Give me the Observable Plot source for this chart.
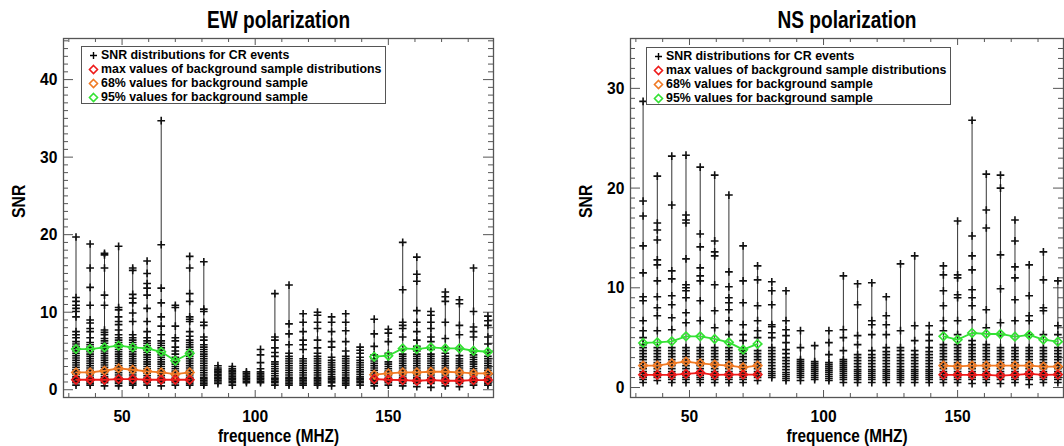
<!DOCTYPE html>
<html><head><meta charset="utf-8">
<script src="https://cdn.jsdelivr.net/npm/d3@7"></script>
<script src="https://cdn.jsdelivr.net/npm/@observablehq/plot@0.6"></script>
<style>
body{margin:0;background:#fff;}
#wrap{display:flex;width:1064px;height:446px;overflow:hidden;}
.panel{position:relative;width:532px;height:446px;flex:none;}
.panel svg.plot{position:absolute;left:0;top:0;}
.legend{position:absolute;border:1px solid #555;background:#fff;box-sizing:border-box;
 font:bold 12.2px "Liberation Sans",Arial,sans-serif;color:#000;padding-top:1px;}
.legend .row{height:14px;line-height:14px;white-space:nowrap;position:relative;padding-left:19px;}
.legend .row svg{position:absolute;left:6px;top:1.5px;}
.legend .row span{display:inline-block;transform:scaleX(1.015);transform-origin:0 50%;}
</style>
</head><body>
<div id="wrap"><div class="panel" id="ew"></div><div class="panel" id="ns"></div></div>
<script>
// ---- data ----
const freqs = [32.7, 38.0, 43.4, 48.7, 54.0, 59.4, 64.7, 70.0, 75.4, 80.7, 86.0, 91.4, 96.7, 102.0, 107.4,
  112.7, 118.0, 123.4, 128.7, 134.0, 139.4, 144.7, 150.0, 155.4, 160.7, 166.0, 171.4, 176.7, 182.0, 187.4];

const ewSNR = [
 [19.7,11.9,11.4,10.9,10.5,10.1,9.4,7.5,7.1,6.7,6.2,5.9,5.6,5.3,5.0,4.7,4.4,4.1,3.8,3.5,3.2,2.9,2.6,2.3,2.0,1.7,1.5,1.3,1.1,0.9,0.6],
 [18.8,15.7,13.2,10.9,9.0,8.6,7.9,7.5,6.7,6.1,5.8,5.5,5.2,4.9,4.6,4.3,4.0,3.7,3.4,3.1,2.8,2.5,2.2,1.9,1.6,1.4,1.2,1.0,0.8,0.6],
 [17.6,17.4,15.7,12.2,10.9,7.7,7.4,7.1,6.6,6.3,6.0,5.6,5.3,5.0,4.7,4.4,4.1,3.8,3.5,3.2,2.9,2.6,2.3,2.0,1.7,1.5,1.3,1.1,0.9,0.5],
 [18.5,10.6,10.3,9.4,8.8,8.4,7.7,7.1,6.7,6.4,6.1,5.8,5.5,5.2,4.9,4.6,4.3,4.0,3.7,3.4,3.1,2.8,2.5,2.2,1.9,1.6,1.4,1.2,1.0,0.8,0.5],
 [15.7,15.4,12.3,11.8,11.2,9.9,8.8,7.1,6.7,6.4,6.1,5.8,5.5,5.2,4.9,4.6,4.3,4.0,3.7,3.4,3.1,2.8,2.5,2.2,1.9,1.6,1.4,1.2,1.0,0.8,0.6],
 [16.6,15.0,13.7,13.1,12.2,10.5,8.8,7.5,6.7,6.3,6.0,5.7,5.4,5.1,4.8,4.5,4.2,3.9,3.6,3.3,3.0,2.7,2.4,2.1,1.8,1.5,1.3,1.1,0.9,0.6],
 [34.7,18.7,13.1,11.2,9.4,8.2,7.1,6.3,6.0,5.7,5.4,5.1,4.8,4.5,4.2,3.9,3.6,3.3,3.0,2.7,2.4,2.1,1.8,1.5,1.3,1.1,0.9,0.5],
 [10.9,10.6,8.2,6.7,6.3,5.5,5.0,4.6,4.2,3.9,3.6,3.3,3.0,2.7,2.4,2.1,1.8,1.5,1.3,1.1,0.9,0.6],
 [17.2,15.7,12.4,11.4,9.4,9.1,8.8,7.5,6.9,6.4,6.1,5.8,5.5,5.2,4.9,4.6,4.3,4.0,3.7,3.4,3.1,2.8,2.5,2.2,1.9,1.6,1.4,1.2,1.0,0.8,0.6],
 [16.5,10.4,10.1,8.7,8.3,6.8,6.4,5.8,5.5,5.2,4.9,4.6,4.3,4.0,3.7,3.4,3.1,2.8,2.5,2.2,1.9,1.6,1.4,1.2,1.0,0.8,0.6],
 [3.1,2.8,2.6,2.4,2.2,2.0,1.8,1.6,1.4,1.2,1.0,0.8],
 [3.0,2.7,2.5,2.3,2.1,1.9,1.7,1.5,1.3,1.1,0.9,0.6],
 [2.3,2.1,1.9,1.7,1.5,1.3,1.1,0.9],
 [5.2,4.5,3.5,2.7,2.3,2.1,1.9,1.7,1.5,1.3,1.1,0.9],
 [12.4,6.8,6.4,5.4,4.8,4.3,3.6,3.3,3.0,2.7,2.4,2.1,1.8,1.5,1.3,1.1,0.9,0.6],
 [13.5,8.5,7.2,5.8,4.7,4.3,4.0,3.7,3.4,3.1,2.8,2.5,2.2,1.9,1.6,1.4,1.2,1.0,0.8,0.6],
 [9.8,8.7,7.5,6.4,5.8,5.2,4.0,3.7,3.4,3.1,2.8,2.5,2.2,1.9,1.6,1.4,1.2,1.0,0.8,0.6],
 [10.0,9.6,8.7,7.9,6.4,5.4,4.7,4.3,4.0,3.7,3.4,3.1,2.8,2.5,2.2,1.9,1.6,1.4,1.2,1.0,0.8,0.6],
 [9.4,8.7,7.5,6.2,5.5,4.2,3.8,3.5,3.2,2.9,2.6,2.3,2.0,1.7,1.5,1.3,1.1,0.9,0.5],
 [9.8,8.7,7.6,6.2,5.0,4.3,4.0,3.7,3.4,3.1,2.8,2.5,2.2,1.9,1.6,1.4,1.2,1.0,0.8,0.6],
 [5.5,5.1,4.7,4.2,3.8,3.5,3.2,2.9,2.6,2.3,2.0,1.7,1.5,1.3,1.1,0.9,0.6],
 [9.1,7.2,5.6,4.5,4.0,3.7,3.4,3.1,2.8,2.5,2.2,1.9,1.6,1.4,1.2,1.0,0.8,0.5],
 [7.8,7.3,6.2,4.7,3.6,3.3,3.0,2.7,2.4,2.1,1.8,1.5,1.3,1.1,0.9,0.6],
 [19.0,12.9,8.7,8.3,7.9,6.8,5.2,4.6,4.3,4.0,3.7,3.4,3.1,2.8,2.5,2.2,1.9,1.6,1.4,1.2,1.0,0.8,0.5],
 [17.1,14.9,14.0,10.2,8.7,7.5,6.4,5.6,5.0,4.6,4.3,4.0,3.7,3.4,3.1,2.8,2.5,2.2,1.9,1.6,1.4,1.2,1.0,0.8,0.4],
 [10.1,9.6,8.7,7.9,6.8,6.2,5.2,4.6,4.3,4.0,3.7,3.4,3.1,2.8,2.5,2.2,1.9,1.6,1.4,1.2,1.0,0.8,0.3],
 [12.6,12.0,11.4,8.7,6.6,5.4,4.7,4.3,4.0,3.7,3.4,3.1,2.8,2.5,2.2,1.9,1.6,1.4,1.2,1.0,0.8,0.5],
 [11.6,11.1,8.3,7.1,5.3,4.4,4.0,3.7,3.4,3.1,2.8,2.5,2.2,1.9,1.6,1.4,1.2,1.0,0.8,0.4],
 [15.7,10.1,8.1,7.5,6.8,5.0,4.5,4.2,3.9,3.6,3.3,3.0,2.7,2.4,2.1,1.8,1.5,1.3,1.1,0.9,0.6],
 [9.5,8.9,8.3,6.8,5.9,4.8,4.3,4.0,3.7,3.4,3.1,2.8,2.5,2.2,1.9,1.6,1.4,1.2,1.0,0.8,0.6]
];

const nsSNR = [
 [28.7,18.7,17.2,14.2,11.5,9.1,8.7,6.7,5.7,5.0,4.3,4.0,3.7,3.4,3.1,2.8,2.5,2.2,1.9,1.6,1.4,1.2,1.0,0.8,0.5],
 [21.2,16.5,15.8,14.8,12.8,12.3,10.7,9.1,8.0,7.2,5.7,4.0,3.7,3.4,3.1,2.8,2.5,2.2,1.9,1.6,1.4,1.2,1.0,0.7],
 [23.2,18.3,11.7,10.9,9.2,8.3,7.0,5.8,4.0,3.7,3.4,3.1,2.8,2.5,2.2,1.9,1.6,1.4,1.2,1.0,0.8,0.5],
 [23.3,17.3,16.8,16.5,12.9,10.3,10.0,9.7,9.0,7.5,6.5,4.0,3.7,3.4,3.1,2.8,2.5,2.2,1.9,1.6,1.4,1.2,1.0,0.8,0.5],
 [22.1,15.4,14.1,12.0,11.2,10.7,8.7,6.7,4.0,3.7,3.4,3.1,2.8,2.5,2.2,1.9,1.6,1.4,1.2,1.0,0.8,0.5],
 [21.3,14.7,13.6,13.2,10.3,7.7,6.0,4.0,3.7,3.4,3.1,2.8,2.5,2.2,1.9,1.6,1.4,1.2,1.0,0.8,0.5],
 [19.3,11.6,10.1,9.0,8.5,7.8,6.7,5.3,4.0,3.7,3.4,3.1,2.8,2.5,2.2,1.9,1.6,1.4,1.2,1.0,0.8,0.5],
 [14.2,10.7,8.5,6.3,5.3,4.7,3.7,3.4,3.1,2.8,2.5,2.2,1.9,1.6,1.4,1.2,1.0,0.8,0.5],
 [12.2,10.8,8.2,6.7,5.7,5.0,3.7,3.4,3.1,2.8,2.5,2.2,1.9,1.6,1.4,1.2,1.0,0.7],
 [10.6,9.7,8.3,6.3,6.1,5.5,5.0,4.0,3.7,3.4,3.1,2.8,2.5,2.2,1.9,1.6,1.4,1.2,1.0],
 [9.7,6.7,5.8,5.2,4.5,3.8,3.4,3.0,2.7,2.4,2.1,1.8,1.5,1.3,1.1,0.9,0.7],
 [5.7,4.0,2.8,2.6,2.4,2.2,2.0,1.8,1.6,1.4,1.2,1.0,0.7],
 [4.2,2.6,2.4,2.2,2.0,1.8,1.6,1.4,1.2,1.0,0.8],
 [5.7,4.5,3.3,2.5,2.3,2.1,1.9,1.7,1.5,1.3,1.1,0.9,0.7],
 [11.2,5.8,5.0,3.7,2.8,2.6,2.4,2.2,2.0,1.8,1.6,1.4,1.2,1.0,0.8,0.5],
 [10.4,8.3,5.2,4.3,3.3,3.0,2.7,2.4,2.1,1.8,1.6,1.4,1.2,1.0,0.8,0.5],
 [10.5,6.7,6.3,5.3,3.7,3.3,3.0,2.7,2.4,2.1,1.8,1.6,1.4,1.2,1.0,0.8,0.5],
 [9.1,7.2,6.3,5.3,4.0,3.6,3.3,3.0,2.7,2.4,2.1,1.8,1.6,1.4,1.2,1.0,0.8,0.5],
 [12.4,5.7,4.0,3.7,3.3,3.0,2.7,2.4,2.1,1.8,1.6,1.4,1.2,1.0,0.8,0.5],
 [13.2,6.2,4.7,3.7,3.3,3.0,2.7,2.4,2.1,1.8,1.6,1.4,1.2,1.0,0.8,0.5],
 [6.2,5.3,4.7,4.0,3.6,3.3,3.0,2.7,2.4,2.1,1.8,1.6,1.4,1.2,1.0,0.8,0.5],
 [12.2,11.3,9.7,8.2,6.7,5.7,4.3,4.0,3.7,3.4,3.1,2.8,2.5,2.2,1.9,1.6,1.4,1.2,1.0,0.8,0.5],
 [16.7,11.3,11.0,9.3,9.0,6.7,5.3,4.3,4.0,3.7,3.4,3.1,2.8,2.5,2.2,1.9,1.6,1.4,1.2,1.0,0.8,0.5],
 [26.8,15.2,13.2,11.8,9.8,9.0,8.2,6.8,4.7,4.3,4.0,3.7,3.4,3.1,2.8,2.5,2.2,1.9,1.6,1.4,1.2,1.0,0.8,0.4],
 [21.4,17.8,16.0,7.8,6.0,4.3,4.0,3.7,3.4,3.1,2.8,2.5,2.2,1.9,1.6,1.4,1.2,1.0,0.8,0.5],
 [21.3,20.0,13.3,9.9,6.5,5.3,4.0,3.7,3.4,3.1,2.8,2.5,2.2,1.9,1.6,1.4,1.2,1.0,0.8,0.4],
 [16.8,14.7,12.1,11.0,8.8,6.7,4.0,3.7,3.4,3.1,2.8,2.5,2.2,1.9,1.6,1.4,1.2,1.0,0.8,0.5],
 [12.3,9.2,7.2,6.7,5.3,4.0,3.7,3.4,3.1,2.8,2.5,2.2,1.9,1.6,1.4,1.2,1.0,0.8,0.3],
 [13.6,10.8,8.0,7.7,5.3,4.0,3.7,3.4,3.1,2.8,2.5,2.2,1.9,1.6,1.4,1.2,1.0,0.8,0.5],
 [10.7,6.2,5.3,4.0,3.7,3.4,3.1,2.8,2.5,2.2,1.9,1.6,1.4,1.2,1.0,0.8,0.5]
];

// background sample curves (only for the low and high bands)
const bgFreqs = [32.7, 38.0, 43.4, 48.7, 54.0, 59.4, 64.7, 70.0, 75.4,
                 144.7, 150.0, 155.4, 160.7, 166.0, 171.4, 176.7, 182.0, 187.4];
const ewMax = [1.29,1.29,1.29,1.37,1.37,1.29,1.29,1.29,1.29, 1.37,1.29,1.25,1.16,1.25,1.16,1.16,1.25,1.25];
const ew68  = [2.24,2.24,2.45,2.75,2.58,2.37,2.24,2.02,2.24, 1.94,2.11,2.24,2.24,2.32,2.32,2.24,2.11,2.11];
const ew95  = [5.25,5.25,5.46,5.68,5.46,5.33,4.90,3.74,4.70, 4.26,4.39,5.33,5.25,5.46,5.33,5.33,5.03,4.90];
const nsMax = [1.27,1.27,1.27,1.37,1.47,1.27,1.30,1.30,1.30, 1.27,1.27,1.27,1.27,1.20,1.27,1.37,1.27,1.30];
const ns68  = [2.20,2.20,2.43,2.60,2.43,2.30,2.20,2.03,2.20, 2.20,2.13,2.20,2.20,2.20,2.20,2.20,2.10,2.10];
const ns95  = [4.47,4.53,4.63,5.13,5.13,4.87,4.53,3.80,4.37, 5.13,4.80,5.47,5.37,5.37,5.10,5.27,4.80,4.60];

const xMajor = [50, 100, 150];
const xMinor = [30, 40, 60, 70, 80, 90, 110, 120, 130, 140, 160, 170, 180];
const ewYMajor = [0, 10, 20, 30, 40];
const nsYMajor = [0, 10, 20, 30];

const legendLabels = ["SNR distributions for CR events", "max values of background sample distributions",
  "68% values for background sample", "95% values for background sample"];

// ---- styles ----
const RED = "#ee1a1a", ORANGE = "#f07a24", GREEN = "#34e234";
const FONT = '"Liberation Sans",Arial,sans-serif';

function squeezeTexts(svg) {
  svg.querySelectorAll("text").forEach(t => {
    const g = t.closest("g[aria-label]");
    const isTick = g && /axis tick label/.test(g.getAttribute("aria-label"));
    const s = isTick ? 0.92 : 0.83;
    const b = t.getBBox();
    const anchor = getComputedStyle(t).textAnchor;
    const cx = anchor === "end" ? b.x + b.width : anchor === "start" ? b.x : b.x + b.width / 2;
    const tr = t.getAttribute("transform") || "";
    t.setAttribute("transform", `${tr} translate(${cx},0) scale(${s},1) translate(${-cx},0)`);
  });
}

function panel(el, opts) {
  const {title, snr, mx, p68, p95, yDomain, yMajor, mLeft, mRight, legendPos} = opts;
  const W = 532, H = 446, mTop = 38, mBottom = 49;
  const fw = W - mLeft - mRight, fh = H - mTop - mBottom;
  const yMinor = d3.range(Math.ceil(yDomain[0]), Math.floor(yDomain[1]) + 1).filter(v => !yMajor.includes(v));
  const pts = freqs.flatMap((f, i) => snr[i].map(v => ({f, v})));
  const rules = freqs.map((f, i) => ({f, lo: d3.min(snr[i]), hi: d3.max(snr[i])}));
  const bg = bgFreqs.map((f, i) => ({f, band: f < 100 ? "low" : "high", mx: mx[i], p68: p68[i], p95: p95[i]}));
  const axisCol = "#555";
  const chart = Plot.plot({
    width: W, height: H, marginLeft: mLeft, marginRight: mRight, marginTop: mTop, marginBottom: mBottom,
    x: {domain: [28, 189.5]},
    y: {domain: yDomain},
    style: {fontFamily: FONT, fontWeight: "bold", fontSize: "19px", color: "#000", background: "transparent"},
    marks: [
      // inward tick marks on all four sides
      Plot.tickX(xMajor, {x: d => d, insetTop: fh - 7, stroke: axisCol}),
      Plot.tickX(xMinor, {x: d => d, insetTop: fh - 4, stroke: axisCol}),
      Plot.tickX(xMajor, {x: d => d, insetBottom: fh - 7, stroke: axisCol}),
      Plot.tickX(xMinor, {x: d => d, insetBottom: fh - 4, stroke: axisCol}),
      Plot.tickY(yMajor, {y: d => d, insetRight: fw - 10, stroke: axisCol}),
      Plot.tickY(yMinor, {y: d => d, insetRight: fw - 5, stroke: axisCol}),
      Plot.tickY(yMajor, {y: d => d, insetLeft: fw - 10, stroke: axisCol}),
      Plot.tickY(yMinor, {y: d => d, insetLeft: fw - 5, stroke: axisCol}),
      Plot.frame({stroke: axisCol, strokeWidth: 1.3}),
      Plot.axisX({ticks: xMajor, tickSize: 0, tickPadding: 12, label: null, fontSize: 17}),
      Plot.axisY({ticks: yMajor, tickSize: 0, tickPadding: 6, label: null, fontSize: 17}),
      // data
      Plot.ruleX(rules, {x: "f", y1: "lo", y2: "hi", stroke: "#333", strokeWidth: 1}),
      Plot.dot(pts, {x: "f", y: "v", symbol: "plus", r: 2.6, stroke: "#111", strokeWidth: 1.6}),
      Plot.line(bg, {x: "f", y: "p95", z: "band", stroke: GREEN, strokeWidth: 1.8}),
      Plot.line(bg, {x: "f", y: "p68", z: "band", stroke: ORANGE, strokeWidth: 1.8}),
      Plot.line(bg, {x: "f", y: "mx", z: "band", stroke: RED, strokeWidth: 1.8}),
      Plot.dot(bg, {x: "f", y: "p95", symbol: "diamond2", r: 3.8, stroke: GREEN, strokeWidth: 1.7}),
      Plot.dot(bg, {x: "f", y: "p68", symbol: "diamond2", r: 3.8, stroke: ORANGE, strokeWidth: 1.7}),
      Plot.dot(bg, {x: "f", y: "mx", symbol: "diamond2", r: 3.8, stroke: RED, strokeWidth: 1.7}),
      // texts
      Plot.text([title], {text: d => d, frameAnchor: "top", dy: -18, fontSize: 23, lineAnchor: "middle"}),
      Plot.text(["SNR"], {text: d => d, frameAnchor: "left", dx: -45, rotate: -90, fontSize: 19, lineAnchor: "middle"}),
      Plot.text(["frequence (MHZ)"], {text: d => d, frameAnchor: "bottom", dy: 44, fontSize: 18.5, lineAnchor: "bottom"})
    ]
  });
  chart.classList.add("plot");
  el.appendChild(chart);
  squeezeTexts(chart);

  // legend
  const lg = document.createElement("div");
  lg.className = "legend";
  Object.assign(lg.style, {left: legendPos[0] + "px", top: legendPos[1] + "px", width: "305px", height: "58px"});
  const syms = [
    '<path d="M-3.5,0H3.5M0,-3.5V3.5" stroke="#000" stroke-width="1.4"/>',
    `<path d="M0,-4L4,0L0,4L-4,0Z" fill="none" stroke="${RED}" stroke-width="1.6"/>`,
    `<path d="M0,-4L4,0L0,4L-4,0Z" fill="none" stroke="${ORANGE}" stroke-width="1.6"/>`,
    `<path d="M0,-4L4,0L0,4L-4,0Z" fill="none" stroke="${GREEN}" stroke-width="1.6"/>`
  ];
  legendLabels.forEach((t, i) => {
    const r = document.createElement("div");
    r.className = "row";
    r.innerHTML = `<svg width="11" height="11" viewBox="-5.5 -5.5 11 11">${syms[i]}</svg>`;
    const s = document.createElement("span");
    s.textContent = t;
    r.appendChild(s);
    lg.appendChild(r);
  });
  el.appendChild(lg);
}

panel(document.getElementById("ew"), {
  title: "EW polarization", snr: ewSNR, mx: ewMax, p68: ew68, p95: ew95,
  yDomain: [-1, 45.3], yMajor: ewYMajor, mLeft: 63, mRight: 39, legendPos: [81, 46]
});
panel(document.getElementById("ns"), {
  title: "NS polarization", snr: nsSNR, mx: nsMax, p68: ns68, p95: ns95,
  yDomain: [-1, 35], yMajor: nsYMajor, mLeft: 98, mRight: 1, legendPos: [114, 47]
});
</script>
</body></html>
